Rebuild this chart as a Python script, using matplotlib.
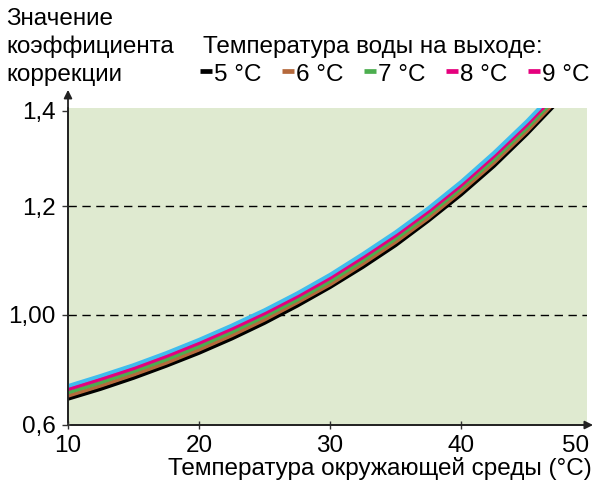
import numpy as np
import matplotlib
matplotlib.use("Agg")
import matplotlib.pyplot as plt
import matplotlib.transforms as mtransforms
from matplotlib.lines import Line2D

plt.rcParams['font.family'] = ['Liberation Sans', 'DejaVu Sans']

# ambient temperature, C
t_amb = [10, 12.5, 15, 17.5, 20, 22.5, 25, 27.5, 30, 32.5, 35, 37.5, 40, 42.5, 45, 47.5]
# correction factor for outlet water 5..9 C
k_5 = [0.695, 0.731, 0.771, 0.815, 0.862, 0.914, 0.971, 1.017, 1.051, 1.088, 1.128, 1.173, 1.224, 1.284, 1.351, 1.423]
k_6 = [0.706, 0.743, 0.783, 0.826, 0.874, 0.926, 0.983, 1.023, 1.056, 1.094, 1.134, 1.178, 1.231, 1.291, 1.357, 1.429]
k_7 = [0.718, 0.755, 0.795, 0.838, 0.886, 0.938, 0.995, 1.028, 1.062, 1.100, 1.140, 1.184, 1.238, 1.298, 1.364, 1.436]
k_8 = [0.730, 0.767, 0.806, 0.850, 0.898, 0.950, 1.003, 1.034, 1.068, 1.106, 1.146, 1.190, 1.244, 1.305, 1.371, 1.443]
k_9 = [0.742, 0.779, 0.818, 0.862, 0.910, 0.962, 1.009, 1.040, 1.074, 1.112, 1.152, 1.196, 1.251, 1.312, 1.378, 1.450]
series = [k_5, k_6, k_7, k_8, k_9]
line_colors = ['#000000', '#b5693c', '#4cae4f', '#e5007d', '#3fbdee']
legend_labels = ['5 °C', '6 °C', '7 °C', '8 °C', '9 °C']
legend_colors = ['#000000', '#b5693c', '#4cae4f', '#e5007d', '#e5007d']

y_ticks = [0.6, 1.0, 1.2, 1.4]
y_ticklabels = ['0,6', '1,00', '1,2', '1,4']
x_ticks = [10, 20, 30, 40]

# the printed axis is not linear: piecewise scale between the labelled values
knots_v = [0.2, 0.6, 1.0, 1.2, 1.4, 1.6]
knots_p = [-110, 0, 110, 219, 314, 409]
def fwd(v):
    return np.interp(v, knots_v, knots_p)
def inv(p):
    return np.interp(p, knots_p, knots_v)

FS = 17.5
W, H = 596, 487
fig = plt.figure(figsize=(W / 100, H / 100), dpi=100)
ax = fig.add_axes([68 / W, 1 - 425 / H, (587 - 68) / W, (425 - 108) / H])
ax.set_facecolor('#dfead0')
ax.set_yscale('function', functions=(fwd, inv))
ax.set_xlim(10, 49.6)
ax.set_ylim(0.6, inv(317))

for yv in [1.0, 1.2]:
    ax.axhline(yv, color='black', lw=1, dashes=(6, 4), zorder=1)

for vals, c in zip(series, line_colors):
    ax.plot(t_amb, vals, color=c, lw=2.7, solid_capstyle='butt', zorder=3)

for s in ['top', 'right']:
    ax.spines[s].set_visible(False)
for s in ['left', 'bottom']:
    ax.spines[s].set_color('#333333')
    ax.spines[s].set_linewidth(1.3)

ax.set_yticks(y_ticks)
ax.set_yticklabels(y_ticklabels)
ax.yaxis.set_minor_locator(matplotlib.ticker.NullLocator())
ax.set_xticks(x_ticks)
ax.tick_params(axis='y', length=4, width=1, direction='out', labelsize=FS, pad=5, color='#333333')
ax.tick_params(axis='x', length=6, width=1, direction='inout', labelsize=FS, pad=4, color='#333333')
lab_tr = mtransforms.offset_copy(ax.get_xaxis_transform(), fig=fig, y=-7, units='points')
ax.text(48.7, 0, '50', transform=lab_tr, ha='center', va='top', fontsize=FS)

# axis arrows
ax.annotate('', xy=(1.017, 0), xytext=(0, 0), xycoords='axes fraction',
            arrowprops=dict(arrowstyle='-|>', color='#222222', lw=1.3, mutation_scale=12))
ax.annotate('', xy=(0, 1.066), xytext=(0, 0), xycoords='axes fraction',
            arrowprops=dict(arrowstyle='-|>', color='#222222', lw=1.3, mutation_scale=12))

fig.text(592 / W, 1 - 469 / H, 'Температура окружающей среды (°C)', ha='right', va='center', fontsize=FS)

for i, line in enumerate(['Значение', 'коэффициента', 'коррекции']):
    fig.text(6 / W, 1 - (19 + 28 * i) / H, line, ha='left', va='center', fontsize=FS)
fig.text(203 / W, 1 - 47 / H, 'Температура воды на выходе:', ha='left', va='center', fontsize=FS)

for i, (lab, c) in enumerate(zip(legend_labels, legend_colors)):
    x0 = 200 + 82 * i
    fig.add_artist(Line2D([x0 / W, (x0 + 12) / W], [1 - 70.5 / H, 1 - 70.5 / H],
                          color=c, lw=3.4, solid_capstyle='butt', transform=fig.transFigure))
    fig.text((x0 + 14) / W, 1 - 75 / H, lab, ha='left', va='center', fontsize=FS)

fig.savefig('out.png', dpi=100)
